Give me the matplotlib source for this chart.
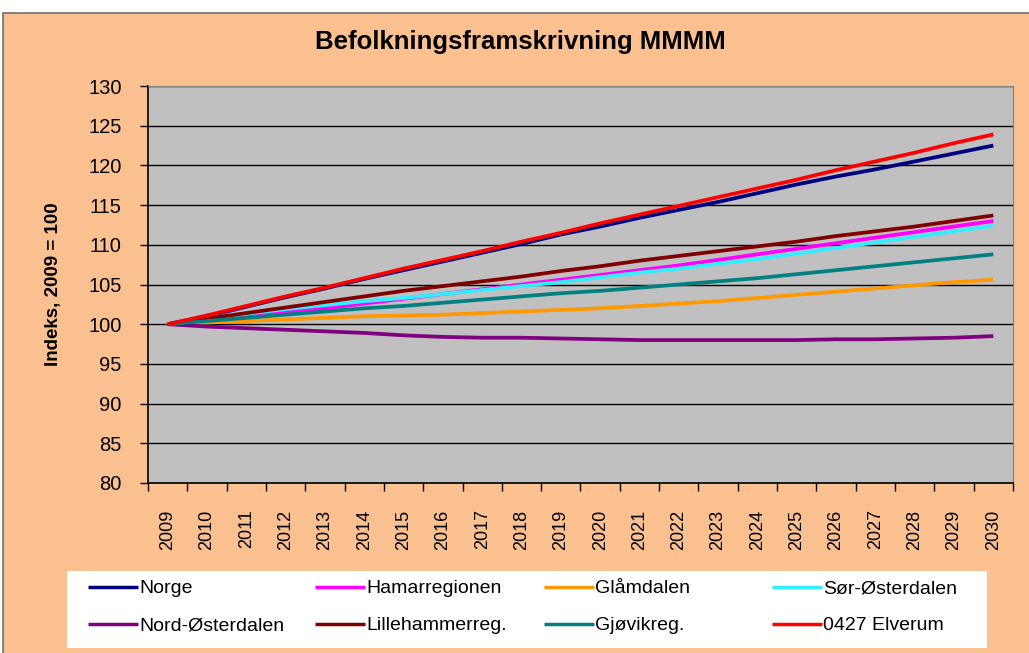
import matplotlib.pyplot as plt
from matplotlib.patches import Rectangle
from matplotlib.ticker import FixedLocator, NullFormatter

years = [str(y) for y in range(2009, 2031)]

norge = [100, 101.0, 102.2, 103.4, 104.5, 105.7, 106.8, 107.9, 109.0, 110.1, 111.3,
         112.3, 113.4, 114.4, 115.4, 116.5, 117.6, 118.6, 119.5, 120.5, 121.5, 122.5]
hamar = [100, 100.5, 101.0, 101.5, 102.0, 102.6, 103.2, 103.8, 104.4, 105.0, 105.6,
         106.2, 106.8, 107.4, 108.1, 108.8, 109.5, 110.2, 110.9, 111.6, 112.3, 113.0]
glamdal = [100, 100.2, 100.4, 100.6, 100.8, 101.0, 101.1, 101.2, 101.4, 101.6, 101.8,
           102.0, 102.3, 102.6, 102.9, 103.3, 103.7, 104.1, 104.5, 104.9, 105.3, 105.6]
sor_ost = [100, 100.7, 101.3, 101.9, 102.4, 102.9, 103.3, 103.8, 104.3, 104.8, 105.3,
           105.9, 106.5, 107.0, 107.6, 108.2, 108.9, 109.6, 110.3, 111.0, 111.7, 112.4]
nord_ost = [100, 99.7, 99.5, 99.3, 99.1, 98.9, 98.6, 98.4, 98.3, 98.3, 98.2,
            98.1, 98.0, 98.0, 98.0, 98.0, 98.0, 98.1, 98.1, 98.2, 98.3, 98.5]
lillehammer = [100, 100.7, 101.4, 102.1, 102.8, 103.5, 104.2, 104.8, 105.4, 106.0, 106.7,
               107.3, 108.0, 108.6, 109.2, 109.8, 110.4, 111.1, 111.7, 112.3, 113.0, 113.7]
gjovik = [100, 100.4, 100.8, 101.2, 101.6, 102.0, 102.3, 102.7, 103.1, 103.5, 103.9,
          104.2, 104.6, 105.0, 105.4, 105.8, 106.3, 106.8, 107.3, 107.8, 108.3, 108.8]
elverum = [100, 101.1, 102.3, 103.5, 104.6, 105.8, 107.0, 108.1, 109.2, 110.4, 111.5,
           112.7, 113.8, 114.9, 116.0, 117.1, 118.2, 119.4, 120.5, 121.6, 122.8, 123.9]

series = [
    ("Norge", norge, "#000080"),
    ("Hamarregionen", hamar, "#FF00FF"),
    ("Glåmdalen", glamdal, "#FF9900"),
    ("Sør-Østerdalen", sor_ost, "#33EEFF"),
    ("Nord-Østerdalen", nord_ost, "#800080"),
    ("Lillehammerreg.", lillehammer, "#800000"),
    ("Gjøvikreg.", gjovik, "#008080"),
    ("0427 Elverum", elverum, "#FF0000"),
]

plt.rcParams['font.family'] = ['Liberation Sans', 'DejaVu Sans']

fig = plt.figure(figsize=(10.29, 6.53), dpi=100)
fig.patch.set_facecolor("white")
fig.patches.append(Rectangle((3 / 1029, -0.01), 1.02, 1 - 13 / 653 + 0.01,
                             transform=fig.transFigure, facecolor="#FAC090",
                             edgecolor="#707070", linewidth=1.2, zorder=-2))
# white legend box
fig.patches.append(Rectangle((67 / 1029, 5 / 653), 920 / 1029, 77 / 653,
                             transform=fig.transFigure, facecolor="white",
                             edgecolor="none", zorder=-1))

ax = fig.add_axes([148 / 1029, 1 - 483 / 653, (1013 - 148) / 1029, (483 - 86) / 653])
ax.set_facecolor("#C0C0C0")

x = list(range(len(years)))
lines = []
for name, vals, col in series:
    ln, = ax.plot(x, vals, color=col, linewidth=2.7, solid_capstyle="butt", label=name)
    lines.append(ln)

ax.set_ylim(80, 130)
ax.set_yticks(range(80, 131, 5))
ax.yaxis.grid(True, color="black", linewidth=1)
ax.set_axisbelow(True)
ax.tick_params(axis="y", direction="out", length=6, width=1, labelsize=14.5, pad=13, colors="black")

ax.set_xlim(-0.5, len(years) - 0.5)
ax.xaxis.set_major_locator(FixedLocator([i - 0.5 for i in range(len(years) + 1)]))
ax.xaxis.set_major_formatter(NullFormatter())
ax.xaxis.set_minor_locator(FixedLocator(x))
ax.set_xticklabels(years, minor=True, rotation=90)
ax.tick_params(axis="x", which="major", direction="out", length=6, width=1)
ax.tick_params(axis="x", which="minor", length=0, labelsize=13, pad=19)

for s in ["left", "bottom"]:
    ax.spines[s].set_color("black")
    ax.spines[s].set_linewidth(1.2)
for s in ["top", "right"]:
    ax.spines[s].set_color("#808080")

ax.set_ylabel("Indeks, 2009 = 100", fontsize=13.5, fontweight="bold", labelpad=19)
fig.text(520 / 1029, 1 - 42 / 653, "Befolkningsframskrivning MMMM",
         ha="center", va="center", fontsize=18.5, fontweight="bold")

# legend: four columns, two rows, filled row-wise
col_x = [80, 307, 536, 764]
for j in range(4):
    hs = [lines[j], lines[j + 4]]
    leg = fig.legend(handles=hs, loc="upper left",
                     bbox_to_anchor=(col_x[j] / 1029, 1 - 572 / 653),
                     fontsize=14, frameon=False, handlelength=2.6,
                     handletextpad=0.05, borderaxespad=0, labelspacing=1.0)
    for h in leg.get_lines():
        h.set_linewidth(2.5)

fig.savefig("out.png", dpi=100)
